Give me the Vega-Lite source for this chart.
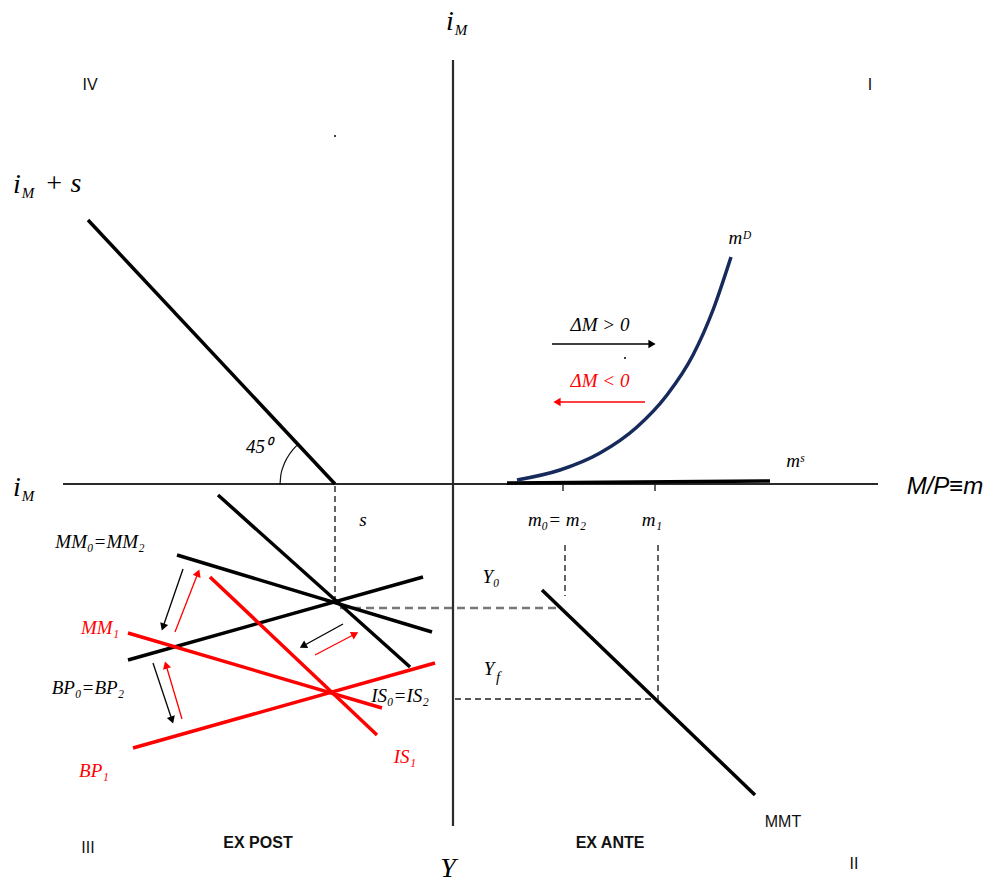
{
  "$schema": "https://vega.github.io/schema/vega-lite/v6.json",
  "width": 999,
  "height": 884,
  "autosize": {"type": "fit", "contains": "padding"},
  "padding": 0,
  "background": "white",
  "config": {"view": {"stroke": null}},
  "datasets": {
    "axes": [
      {"name": "horizontal", "x": 63, "y": 484, "x2": 878, "y2": 484},
      {"name": "vertical", "x": 453, "y": 60, "x2": 453, "y2": 826}
    ],
    "guides": [
      {"name": "s", "x": 335, "y": 486, "x2": 335, "y2": 600},
      {"name": "m0", "x": 565, "y": 545, "x2": 565, "y2": 596},
      {"name": "m1", "x": 658, "y": 545, "x2": 658, "y2": 700},
      {"name": "Yf", "x": 455, "y": 699, "x2": 656, "y2": 699}
    ],
    "guides_gray": [
      {"name": "Y0", "x": 340, "y": 608, "x2": 557, "y2": 608}
    ],
    "ticks": [
      {"name": "m0", "x": 563, "y": 484, "x2": 563, "y2": 491},
      {"name": "m1", "x": 655, "y": 484, "x2": 655, "y2": 491}
    ],
    "curves": [
      {"name": "45deg", "state": "base", "x": 88, "y": 220, "x2": 335, "y2": 484},
      {"name": "mS", "state": "base", "x": 507, "y": 483, "x2": 770, "y2": 481},
      {"name": "IS0", "state": "base", "x": 218, "y": 495, "x2": 410, "y2": 667},
      {"name": "MM0", "state": "base", "x": 177, "y": 555, "x2": 432, "y2": 632},
      {"name": "BP0", "state": "base", "x": 128, "y": 660, "x2": 423, "y2": 577},
      {"name": "MM1", "state": "shift", "x": 128, "y": 633, "x2": 382, "y2": 708},
      {"name": "IS1", "state": "shift", "x": 210, "y": 577, "x2": 377, "y2": 735},
      {"name": "BP1", "state": "shift", "x": 133, "y": 748, "x2": 435, "y2": 663},
      {"name": "MMT", "state": "base", "x": 542, "y": 590, "x2": 755, "y2": 795}
    ],
    "mD": [
      {"i": 0, "x": 517, "y": 480},
      {"i": 1, "x": 560, "y": 470},
      {"i": 2, "x": 600, "y": 453},
      {"i": 3, "x": 637, "y": 427},
      {"i": 4, "x": 667, "y": 395},
      {"i": 5, "x": 693, "y": 355},
      {"i": 6, "x": 713, "y": 310},
      {"i": 7, "x": 731, "y": 257}
    ],
    "arc": [
      {"i": 0, "x": 280, "y": 485},
      {"i": 1, "x": 280.8, "y": 475.4},
      {"i": 2, "x": 283.3, "y": 466.2},
      {"i": 3, "x": 287.4, "y": 457.5},
      {"i": 4, "x": 292.9, "y": 449.6},
      {"i": 5, "x": 297.5, "y": 444.8}
    ],
    "arrows": [
      {"name": "dM_pos", "state": "base", "x": 552, "y": 344, "x2": 652, "y2": 344},
      {"name": "dM_neg", "state": "shift", "x": 645, "y": 402, "x2": 557, "y2": 402},
      {"name": "mm_down", "state": "base", "x": 183, "y": 569, "x2": 163, "y2": 627},
      {"name": "mm_up", "state": "shift", "x": 175, "y": 632, "x2": 198, "y2": 573},
      {"name": "bp_down", "state": "base", "x": 153, "y": 663, "x2": 172, "y2": 720},
      {"name": "bp_up", "state": "shift", "x": 182, "y": 719, "x2": 166, "y2": 665},
      {"name": "is_left", "state": "base", "x": 343, "y": 624, "x2": 303, "y2": 646},
      {"name": "is_right", "state": "shift", "x": 315, "y": 655, "x2": 355, "y2": 634}
    ],
    "specks": [
      {"x": 335, "y": 136},
      {"x": 625, "y": 358}
    ],
    "labels": [
      {"role": "big", "state": "base", "text": "i", "x": 450, "y": 22},
      {"role": "sub", "state": "base", "text": "M", "x": 461, "y": 30},
      {"role": "big", "state": "base", "text": "i", "x": 17, "y": 488},
      {"role": "sub", "state": "base", "text": "M", "x": 28, "y": 496},
      {"role": "big", "state": "base", "text": "i", "x": 17, "y": 185},
      {"role": "sub", "state": "base", "text": "M", "x": 28, "y": 193},
      {"role": "big", "state": "base", "text": "+ s", "x": 63, "y": 184},
      {"role": "big", "state": "base", "text": "Y", "x": 448, "y": 869},
      {"role": "axisname", "state": "base", "text": "M/P≡m", "x": 945, "y": 487},
      {"role": "math", "state": "base", "text": "mᴰ", "x": 740, "y": 238},
      {"role": "math", "state": "base", "text": "mˢ", "x": 795, "y": 461},
      {"role": "math", "state": "base", "text": "ΔM > 0", "x": 600, "y": 325},
      {"role": "math", "state": "shift", "text": "ΔM < 0", "x": 600, "y": 381},
      {"role": "math", "state": "base", "text": "m₀= m₂", "x": 557, "y": 520},
      {"role": "math", "state": "base", "text": "m₁", "x": 652, "y": 520},
      {"role": "math", "state": "base", "text": "s", "x": 363, "y": 520},
      {"role": "math", "state": "base", "text": "45⁰", "x": 259, "y": 447},
      {"role": "math", "state": "base", "text": "Y₀", "x": 491, "y": 577},
      {"role": "math", "state": "base", "text": "Y", "x": 489, "y": 669},
      {"role": "sub", "state": "base", "text": "f", "x": 498, "y": 677},
      {"role": "math", "state": "base", "text": "MM₀=MM₂", "x": 100, "y": 542},
      {"role": "math", "state": "shift", "text": "MM₁", "x": 100, "y": 628},
      {"role": "math", "state": "base", "text": "BP₀=BP₂", "x": 88, "y": 688},
      {"role": "math", "state": "shift", "text": "BP₁", "x": 94, "y": 771},
      {"role": "math", "state": "base", "text": "IS₀=IS₂", "x": 400, "y": 696},
      {"role": "math", "state": "shift", "text": "IS₁", "x": 405, "y": 757},
      {"role": "roman", "state": "base", "text": "IV", "x": 90, "y": 85},
      {"role": "roman", "state": "base", "text": "I", "x": 870, "y": 85},
      {"role": "roman", "state": "base", "text": "III", "x": 88, "y": 848},
      {"role": "roman", "state": "base", "text": "II", "x": 854, "y": 864},
      {"role": "roman", "state": "base", "text": "MMT", "x": 783, "y": 822},
      {"role": "bold", "state": "base", "text": "EX POST", "x": 258, "y": 843},
      {"role": "bold", "state": "base", "text": "EX ANTE", "x": 610, "y": 843}
    ]
  },
  "encoding": {
    "x": {"field": "x", "type": "quantitative", "scale": {"domain": [0, 999], "nice": false, "zero": false}, "axis": null},
    "y": {"field": "y", "type": "quantitative", "scale": {"domain": [0, 884], "nice": false, "zero": false, "reverse": true}, "axis": null}
  },
  "layer": [
    {
      "data": {"name": "axes"},
      "mark": {"type": "rule", "strokeWidth": 2.2, "color": "#2a2a2a"},
      "encoding": {"x2": {"field": "x2"}, "y2": {"field": "y2"}}
    },
    {
      "data": {"name": "guides"},
      "mark": {"type": "rule", "strokeWidth": 1.4, "color": "#222222", "strokeDash": [6, 4]},
      "encoding": {"x2": {"field": "x2"}, "y2": {"field": "y2"}}
    },
    {
      "data": {"name": "guides_gray"},
      "mark": {"type": "rule", "strokeWidth": 2.4, "color": "#777777", "strokeDash": [8, 5]},
      "encoding": {"x2": {"field": "x2"}, "y2": {"field": "y2"}}
    },
    {
      "data": {"name": "ticks"},
      "mark": {"type": "rule", "strokeWidth": 1.4, "color": "#222222"},
      "encoding": {"x2": {"field": "x2"}, "y2": {"field": "y2"}}
    },
    {
      "data": {"name": "curves"},
      "mark": {"type": "rule", "strokeWidth": 3.5},
      "encoding": {
        "x2": {"field": "x2"},
        "y2": {"field": "y2"},
        "color": {"field": "state", "type": "nominal", "scale": {"domain": ["base", "shift"], "range": ["#000000", "#ff0000"]}, "legend": null}
      }
    },
    {
      "data": {"name": "mD"},
      "mark": {"type": "line", "strokeWidth": 3.5, "color": "#172a5c", "interpolate": "monotone"},
      "encoding": {"order": {"field": "i", "type": "quantitative"}}
    },
    {
      "data": {"name": "arc"},
      "mark": {"type": "line", "strokeWidth": 1.2, "color": "#111111", "interpolate": "monotone"},
      "encoding": {"order": {"field": "i", "type": "quantitative"}}
    },
    {
      "data": {"name": "arrows"},
      "mark": {"type": "rule", "strokeWidth": 1.3},
      "encoding": {
        "x2": {"field": "x2"},
        "y2": {"field": "y2"},
        "color": {"field": "state", "type": "nominal", "scale": {"domain": ["base", "shift"], "range": ["#000000", "#ff0000"]}, "legend": null}
      }
    },
    {
      "data": {"name": "arrows"},
      "transform": [
        {"calculate": "atan2(datum.x2 - datum.x, datum.y - datum.y2) * 180 / PI", "as": "ang"}
      ],
      "mark": {"type": "point", "shape": "triangle-up", "filled": true, "opacity": 1, "size": 70},
      "encoding": {
        "x": {"field": "x2", "type": "quantitative"},
        "y": {"field": "y2", "type": "quantitative"},
        "angle": {"field": "ang", "type": "quantitative", "scale": null},
        "color": {"field": "state", "type": "nominal", "scale": {"domain": ["base", "shift"], "range": ["#000000", "#ff0000"]}, "legend": null}
      }
    },
    {
      "data": {"name": "specks"},
      "mark": {"type": "point", "shape": "circle", "filled": true, "size": 4, "color": "#000000", "opacity": 1}
    },
    {
      "data": {"name": "labels"},
      "transform": [{"filter": "datum.role === 'big'"}],
      "mark": {"type": "text", "font": "Liberation Serif", "fontStyle": "italic", "fontSize": 28, "align": "center", "baseline": "middle"},
      "encoding": {
        "text": {"field": "text"},
        "color": {"field": "state", "type": "nominal", "scale": {"domain": ["base", "shift"], "range": ["#000000", "#ff0000"]}, "legend": null}
      }
    },
    {
      "data": {"name": "labels"},
      "transform": [{"filter": "datum.role === 'sub'"}],
      "mark": {"type": "text", "font": "Liberation Serif", "fontStyle": "italic", "fontSize": 15, "align": "center", "baseline": "middle"},
      "encoding": {
        "text": {"field": "text"},
        "color": {"field": "state", "type": "nominal", "scale": {"domain": ["base", "shift"], "range": ["#000000", "#ff0000"]}, "legend": null}
      }
    },
    {
      "data": {"name": "labels"},
      "transform": [{"filter": "datum.role === 'axisname'"}],
      "mark": {"type": "text", "font": "Liberation Sans", "fontStyle": "italic", "fontSize": 24, "align": "center", "baseline": "middle"},
      "encoding": {"text": {"field": "text"}, "color": {"value": "#000000"}}
    },
    {
      "data": {"name": "labels"},
      "transform": [{"filter": "datum.role === 'math'"}],
      "mark": {"type": "text", "font": "Liberation Serif", "fontStyle": "italic", "fontSize": 19, "align": "center", "baseline": "middle"},
      "encoding": {
        "text": {"field": "text"},
        "color": {"field": "state", "type": "nominal", "scale": {"domain": ["base", "shift"], "range": ["#000000", "#ff0000"]}, "legend": null}
      }
    },
    {
      "data": {"name": "labels"},
      "transform": [{"filter": "datum.role === 'roman'"}],
      "mark": {"type": "text", "font": "Liberation Sans", "fontSize": 16, "align": "center", "baseline": "middle"},
      "encoding": {"text": {"field": "text"}, "color": {"value": "#111111"}}
    },
    {
      "data": {"name": "labels"},
      "transform": [{"filter": "datum.role === 'bold'"}],
      "mark": {"type": "text", "font": "Liberation Sans", "fontWeight": "bold", "fontSize": 16, "align": "center", "baseline": "middle"},
      "encoding": {"text": {"field": "text"}, "color": {"value": "#111111"}}
    }
  ]
}
